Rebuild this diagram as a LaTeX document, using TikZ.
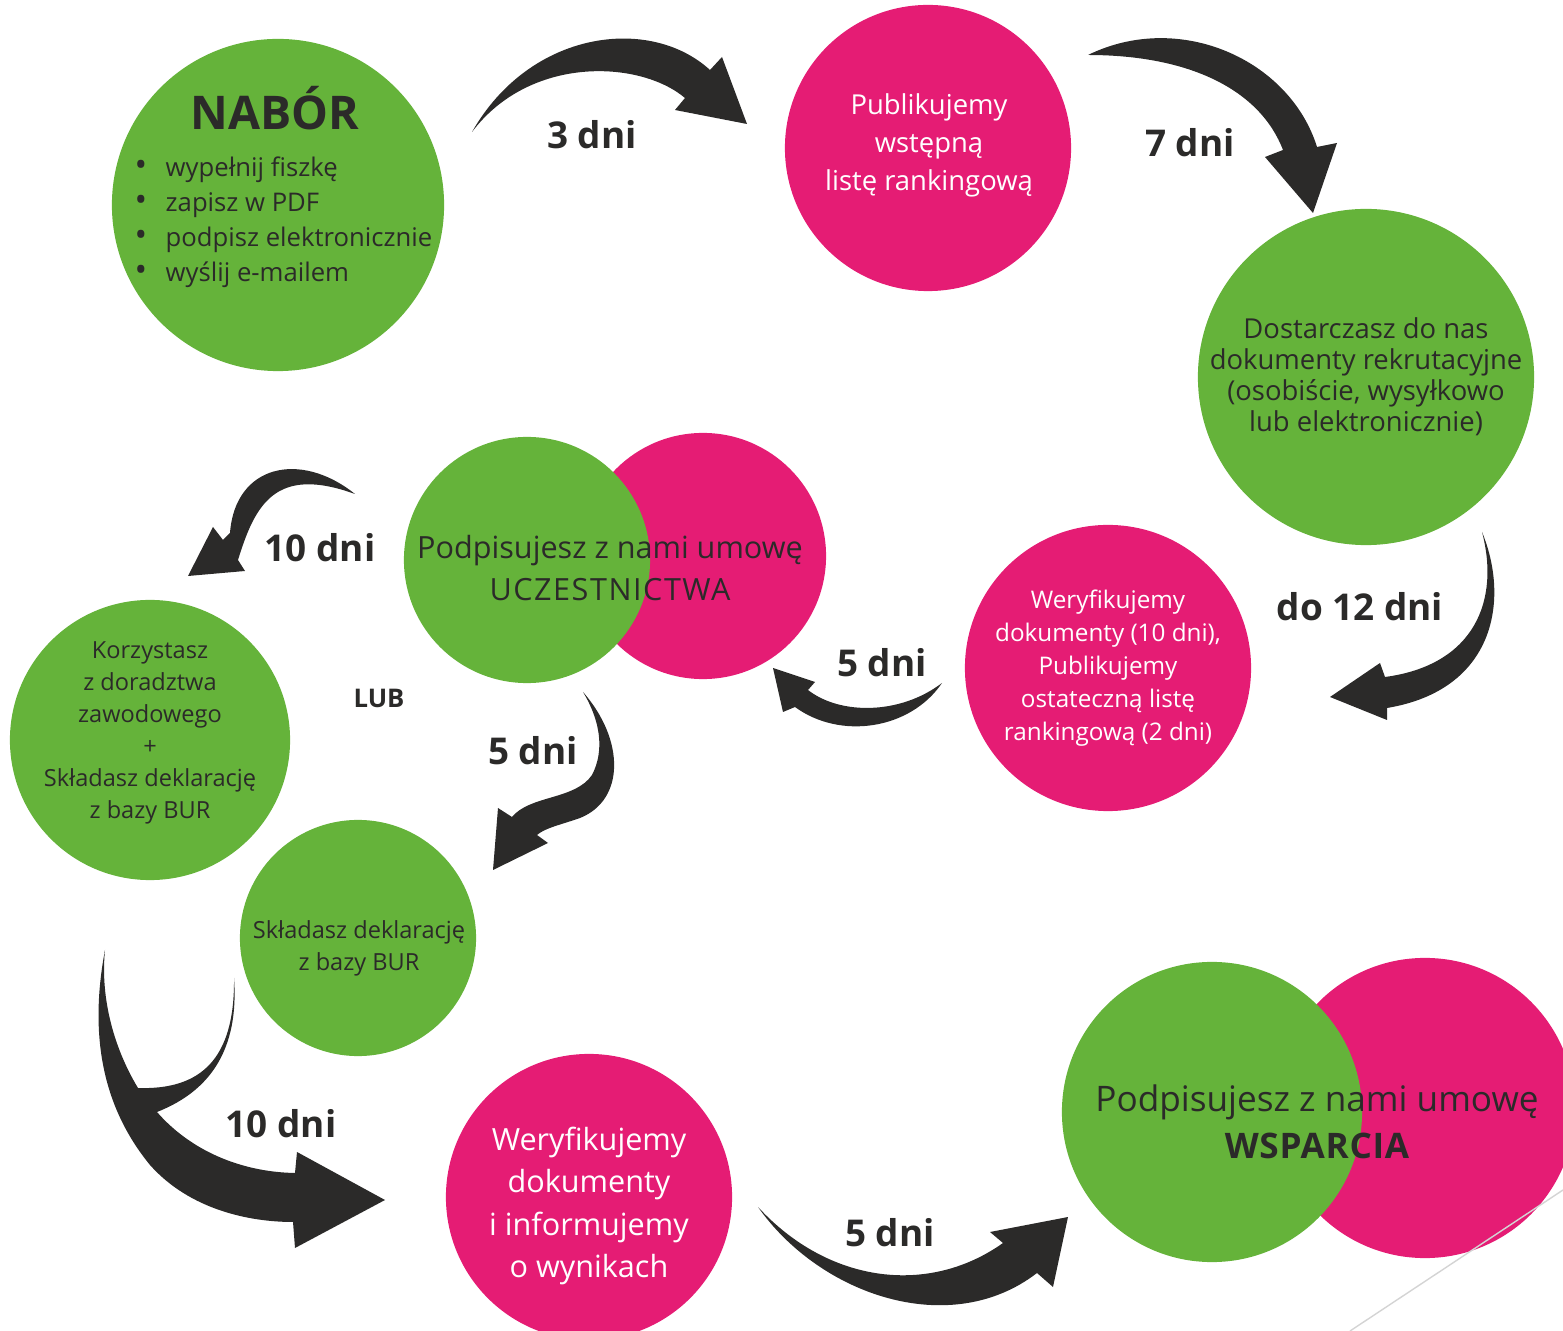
\documentclass[tikz,border=0pt]{standalone}
\usepackage{fontspec}
\setmainfont{Open Sans}
\usepackage{xcolor}
\definecolor{ballgreen}{RGB}{101,179,58}
\definecolor{ballpink}{RGB}{229,28,116}
\definecolor{inkgray}{RGB}{43,42,41}
\definecolor{linegray}{RGB}{212,212,212}

\tikzset{
	ball/.style={circle,inner sep=0pt,align=center},
	greenball/.style={ball,fill=ballgreen,text=inkgray},
	pinkball/.style={ball,fill=ballpink,text=white},
	days/.style={text=inkgray,font=\fontsize{10.5}{13}\selectfont\bfseries},
}

\begin{document}
\begin{tikzpicture}[x=0.01cm,y=-0.01cm]
	\useasboundingbox (0,0) rectangle (1563,1331);
	\clip (0,0) rectangle (1563,1331);

	%nabor
	\node[greenball,minimum size=3.32cm](nabor) at (278,205) {};
	\node[text=inkgray,font=\fontsize{13.2}{15}\selectfont\bfseries](naborlabel) at (275,108) {NABÓR};
	\foreach \task [count=\i] in {wypełnij fiszkę,zapisz w PDF,podpisz elektronicznie,wyślij e-mailem}
		\node[anchor=base west,inner sep=0pt,text=inkgray,font=\fontsize{7.3}{10}\selectfont](task\i) at (134,{142+35*\i}) {\makebox[0.31cm][l]{\fontsize{9.5}{10}\selectfont\textbullet}\task};

	%first ranking
	\node[pinkball,minimum size=2.86cm](ranking) at (928,148) {};
	\node[text=white,align=center,font=\fontsize{7.8}{10.8}\selectfont](rankingtext) at (929,145) {Publikujemy\\wstępną\\listę rankingową};

	%documents
	\node[greenball,minimum size=3.36cm,font=\fontsize{7.8}{8.8}\selectfont](documents) at (1366,377) {Dostarczasz do nas\\dokumenty rekrutacyjne\\(osobiście, wysyłkowo\\lub elektronicznie)};

	%final ranking
	\node[pinkball,minimum size=2.86cm,font=\fontsize{6.9}{9.4}\selectfont](verify) at (1108,668) {Weryfikujemy\\dokumenty (10 dni),\\Publikujemy\\ostateczną listę\\rankingową (2 dni)};

	%participation contract
	\node[pinkball,minimum size=2.46cm](particippink) at (703,556) {};
	\node[greenball,minimum size=2.46cm](participgreen) at (527,560) {};
	\node[text=inkgray,align=center,font=\fontsize{8.7}{11.7}\selectfont](particip) at (610,568) {Podpisujesz z nami umowę\\{\addfontfeature{LetterSpace=5}UCZESTNICTWA}};

	%two ways
	\node[greenball,minimum size=2.8cm](advice) at (150,740) {};
	\node[text=inkgray,align=center,font=\fontsize{6.7}{9.1}\selectfont](advicetext) at (150,733) {Korzystasz\\z doradztwa\\zawodowego\\+\\Składasz deklarację\\z bazy BUR};
	\node[greenball,minimum size=2.36cm](declare) at (358,938) {};
	\node[text=inkgray,align=center,font=\fontsize{6.7}{9.1}\selectfont](declaretext) at (359,948) {Składasz deklarację\\z bazy BUR};
	\node[text=inkgray,font=\fontsize{7.3}{9}\selectfont\bfseries](or) at (379,698) {LUB};

	%results
	\node[pinkball,minimum size=2.86cm](results) at (589,1197) {};
	\node[text=white,align=center,font=\fontsize{8.7}{12}\selectfont](resultstext) at (589,1206) {Weryfikujemy\\dokumenty\\i informujemy\\o wynikach};

	%support contract
	\node[pinkball,minimum size=3cm](supportpink) at (1425,1108) {};
	\node[greenball,minimum size=3cm](supportgreen) at (1212,1112) {};
	\node[text=inkgray,align=center,font=\fontsize{10}{13.4}\selectfont](support) at (1317,1122) {Podpisujesz z nami umowę\\{\bfseries\addfontfeature{LetterSpace=2}WSPARCIA}};

	%arrows
	\fill[inkgray] (472,132) .. controls (530,30) and (650,15) .. (710,70) -- (722,57) -- (747,124) -- (675,110) -- (685,98) .. controls (640,60) and (530,55) .. cycle;
	\fill[inkgray] (1088,55) .. controls (1180,10) and (1290,60) .. (1317,147) -- (1337,143) -- (1313,213) -- (1265,157) -- (1283,150) .. controls (1260,90) and (1190,55) .. cycle;
	\fill[inkgray] (1482,532) .. controls (1510,600) and (1495,690) .. (1387,708) -- (1387,720) -- (1330,697) -- (1380,663) -- (1385,677) .. controls (1475,665) and (1500,600) .. cycle;
	\fill[inkgray] (942,683) .. controls (910,730) and (840,740) .. (795,707) -- (783,712) -- (773,668) -- (815,682) -- (808,690) .. controls (840,715) and (900,715) .. cycle;
	\fill[inkgray] (355,494) .. controls (300,450) and (235,465) .. (230,533) -- (223,540) -- (213,527) -- (188,576) -- (245,571) -- (238,560) .. controls (255,505) and (275,465) .. cycle;
	\fill[inkgray] (583,692) .. controls (625,740) and (625,800) .. (580,818) .. controls (560,825) and (545,828) .. (537,835) -- (548,843) -- (493,870) -- (498,808) -- (512,817) .. controls (530,795) and (575,800) .. (592,775) .. controls (605,750) and (600,720) .. cycle;
	\fill[inkgray] (105,950) .. controls (88,1040) and (105,1110) .. (150,1165) .. controls (190,1210) and (250,1222) .. (293,1222) -- (295,1248) -- (385,1200) -- (297,1152) -- (295,1173) .. controls (240,1172) and (190,1150) .. (157,1112) .. controls (200,1095) and (240,1060) .. (234,978) .. controls (235,1060) and (200,1090) .. (138,1088) .. controls (115,1050) and (100,1000) .. cycle;
	\fill[inkgray] (758,1207) .. controls (820,1295) and (950,1340) .. (1037,1273) -- (1053,1287) -- (1068,1217) -- (990,1232) -- (1003,1243) .. controls (930,1295) and (830,1285) .. cycle;

	%days
	\node[days](d3) at (592,135) {3 dni};
	\node[days](d7) at (1190,143) {7 dni};
	\node[days](d12) at (1360,607) {do 12 dni};
	\node[days](d5a) at (882,663) {5 dni};
	\node[days](d10a) at (320,548) {10 dni};
	\node[days](d5b) at (533,751) {5 dni};
	\node[days](d10b) at (281,1124) {10 dni};
	\node[days](d5c) at (890,1233) {5 dni};

	%corner line
	\draw[linegray] (1350,1331) -- (1563,1190);
\end{tikzpicture}
\end{document}
